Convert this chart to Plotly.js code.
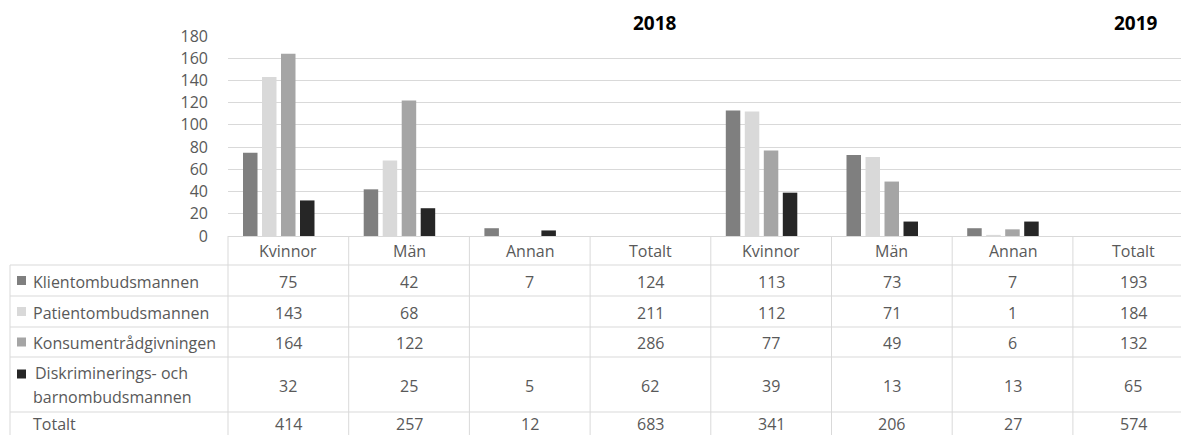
<!DOCTYPE html>
<html>
<head>
<meta charset="utf-8">
<script src="https://cdn.plot.ly/plotly-3.0.1.min.js"></script>
<style>html,body{margin:0;padding:0;background:#fff;}#chart{width:1181px;height:435px;}</style>
</head>
<body>
<div id="chart"></div>
<script>
// ---- data ----
const categories = ['Kvinnor', 'Män', 'Annan', 'Totalt', 'Kvinnor', 'Män', 'Annan', 'Totalt'];
const years = ['2018', '2019'];
const seriesNames = ['Klientombudsmannen', 'Patientombudsmannen', 'Konsumentrådgivningen', 'Diskriminerings- och<br>barnombudsmannen'];
const klient    = [75, 42, 7, 124, 113, 73, 7, 193];
const patient   = [143, 68, null, 211, 112, 71, 1, 184];
const konsument = [164, 122, null, 286, 77, 49, 6, 132];
const diskr     = [32, 25, 5, 62, 39, 13, 13, 65];
const totalt    = [414, 257, 12, 683, 341, 206, 27, 574];
const totalLabel = 'Totalt';
const yTicks = [0, 20, 40, 60, 80, 100, 120, 140, 160, 180];

// ---- style / layout constants ----
const colors = ['#7f7f7f', '#d9d9d9', '#a5a5a5', '#262626'];
const W = 1181, H = 435;
const ML = 228, MR = 0, MT = 36, MB = 199;
const plotW = W - ML - MR, plotH = H - MT - MB;
const catPx = 120.7;
const xRange = [-0.5, -0.5 + plotW / catPx];
const barW = 14.5 / catPx, barStep = 19 / catPx, firstOff = -0.5 + 15 / catPx;
const gridCol = '#d9d9d9', textCol = '#595959';
const FONT = 'Open Sans, Noto Sans, sans-serif';

const px2py = p => (H - MB - p) / plotH;           // pixel y -> paper y
const px2px = p => (p - ML) / plotW;                // pixel x -> paper x
const d2px = u => (u - xRange[0]) / (xRange[1] - xRange[0]); // data x -> paper x

const series = [klient, patient, konsument, diskr];
const xIdx = categories.map((c, i) => i);

const traces = series.map((vals, k) => ({
  type: 'bar',
  name: seriesNames[k].replace('<br>', ' '),
  x: xIdx,
  y: vals.map((v, i) => categories[i] === totalLabel ? null : v),
  width: barW,
  offset: firstOff + k * barStep,
  marker: {color: colors[k], line: {width: 0}},
  hoverinfo: 'y+name'
}));

// ---- table geometry (pixels) ----
const headerTop = 236, headerBot = 265;
const rowBounds = [265, 296, 327, 357, 412, 443];
const legendLeft = 10;

const shapes = [];
const line = (x0, y0, x1, y1) => shapes.push({type: 'line', xref: 'paper', yref: 'paper',
  x0: x0, y0: y0, x1: x1, y1: y1, line: {color: gridCol, width: 1}});

// horizontal lines
rowBounds.slice(0, 5).forEach(p => line(px2px(legendLeft), px2py(p), 1, px2py(p)));
// vertical: legend column left edge
line(px2px(legendLeft), px2py(headerBot), px2px(legendLeft), px2py(H));
// vertical column boundaries
for (let i = 0; i <= categories.length; i++) {
  const xp = d2px(i - 0.5);
  if (xp <= 1.0001) line(xp, px2py(headerTop), xp, px2py(H));
}

const annotations = [];
const txt = (x, xref, y, text, opts) => annotations.push(Object.assign({
  x: x, xref: xref, y: y, yref: 'paper', text: text, showarrow: false,
  font: {family: FONT, size: 16, color: textCol}, xanchor: 'center', yanchor: 'middle',
  borderpad: 0
}, opts || {}));

// year titles over the 'Totalt' column of each year
let yearIdx = 0;
categories.forEach((c, i) => {
  if (c === totalLabel) {
    txt(i, 'x', px2py(23), years[yearIdx], {font: {family: FONT, size: 19, color: '#000000', weight: 'bold'}, xshift: yearIdx === 0 ? 5 : 3});
    yearIdx++;
  }
});

// header row
categories.forEach((c, i) => txt(i, 'x', px2py(251), c));

// data rows
const rows = series.concat([totalt]);
const rowNames = seriesNames.concat([totalLabel]);
rows.forEach((vals, r) => {
  const yc = (rowBounds[r] + rowBounds[r + 1]) / 2;
  const yText = r === 4 ? 424 : yc + 1;
  vals.forEach((v, i) => {
    if (v !== null) txt(i, 'x', px2py(yText), String(v));
  });
  // row label
  if (r < 4) {
    const twoLine = rowNames[r].indexOf('<br>') >= 0;
    const swY = twoLine ? 374 : yc;
    shapes.push({type: 'rect', xref: 'paper', yref: 'paper',
      x0: px2px(17), x1: px2px(26), y0: px2py(swY - 4.5), y1: px2py(swY + 4.5),
      fillcolor: colors[r], line: {width: 0}});
    if (twoLine) {
      const parts = rowNames[r].split('<br>');
      txt(px2px(34), 'paper', px2py(373), parts[0], {xanchor: 'left'});
      txt(px2px(32), 'paper', px2py(397), parts[1], {xanchor: 'left'});
    } else {
      txt(px2px(32), 'paper', px2py(yText), rowNames[r], {xanchor: 'left'});
    }
  } else {
    txt(px2px(32), 'paper', px2py(yText), rowNames[r], {xanchor: 'left'});
  }
});

const layout = {
  width: W, height: H,
  margin: {l: ML, r: MR, t: MT, b: MB, pad: 0},
  paper_bgcolor: '#ffffff', plot_bgcolor: '#ffffff',
  showlegend: false,
  barmode: 'overlay',
  font: {family: FONT, size: 16, color: textCol},
  xaxis: {type: 'linear', range: xRange, showticklabels: false, showgrid: false,
          zeroline: false, showline: false, ticks: '', fixedrange: true},
  yaxis: {range: [0, 180], tickvals: yTicks, ticktext: yTicks.map(String),
          showgrid: true, gridcolor: gridCol, gridwidth: 1,
          zeroline: true, zerolinecolor: gridCol, zerolinewidth: 1,
          showline: false, ticks: '', ticklabelstandoff: 19,
          tickfont: {family: FONT, size: 16, color: textCol}, fixedrange: true},
  shapes: shapes,
  annotations: annotations
};

Plotly.newPlot('chart', traces, layout, {displayModeBar: false, staticPlot: true});
</script>
</body>
</html>
